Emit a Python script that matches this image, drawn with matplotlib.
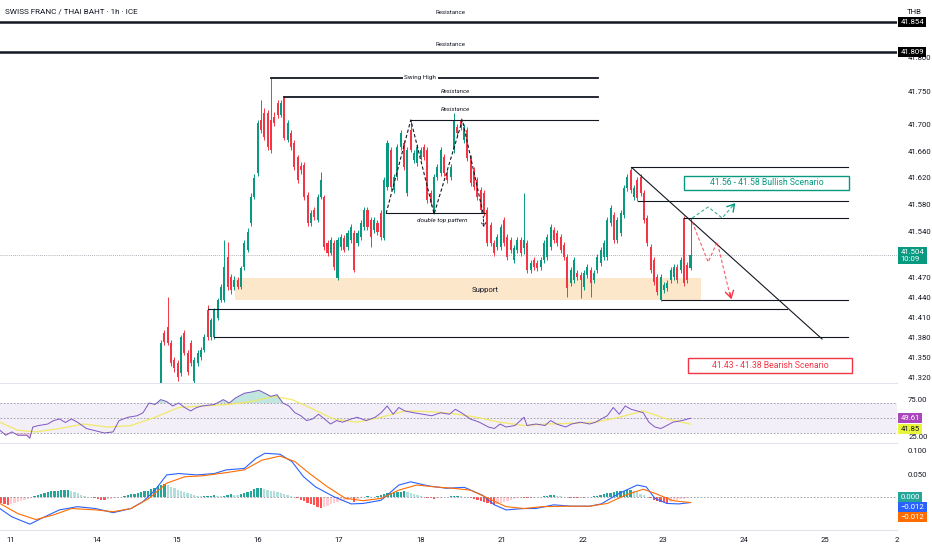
import numpy as np
import matplotlib.pyplot as plt
from matplotlib.patches import Rectangle

plt.rcParams['font.family'] = ['Roboto', 'DejaVu Sans']

# ---- hourly CHF/THB candles (bar index 0 = first visible candle) ----
opens = [41.310, 41.388, 41.397, 41.373, 41.347, 41.343, 41.328, 41.388, 41.358, 41.373,
         41.316, 41.343, 41.352, 41.362, 41.422, 41.382, 41.382, 41.410, 41.437, 41.437,
         41.502, 41.472, 41.457, 41.467, 41.457, 41.487, 41.512, 41.553, 41.592, 41.628,
         41.707, 41.718, 41.718, 41.707, 41.712, 41.733, 41.715, 41.740, 41.677, 41.688,
         41.673, 41.652, 41.638, 41.640, 41.595, 41.553, 41.572, 41.557, 41.592, 41.592,
         41.523, 41.508, 41.523, 41.470, 41.517, 41.530, 41.517, 41.527, 41.538, 41.523,
         41.532, 41.547, 41.572, 41.557, 41.542, 41.553, 41.568, 41.530, 41.607, 41.662,
         41.602, 41.622, 41.667, 41.673, 41.598, 41.692, 41.647, 41.643, 41.652, 41.667,
         41.662, 41.598, 41.568, 41.622, 41.628, 41.652, 41.628, 41.622, 41.662, 41.697,
         41.707, 41.677, 41.692, 41.650, 41.632, 41.617, 41.602, 41.598, 41.572, 41.550,
         41.523, 41.517, 41.517, 41.557, 41.532, 41.527, 41.497, 41.512, 41.527, 41.515,
         41.523, 41.482, 41.497, 41.493, 41.487, 41.497, 41.502, 41.517, 41.542, 41.538,
         41.532, 41.520, 41.502, 41.463, 41.467, 41.478, 41.475, 41.457, 41.475, 41.482,
         41.467, 41.482, 41.493, 41.502, 41.502, 41.553, 41.565, 41.527, 41.538, 41.565,
         41.605, 41.632, 41.592, 41.617, 41.622, 41.598, 41.560, 41.517, 41.497, 41.472,
         41.437, 41.452, 41.455, 41.467, 41.472, 41.487, 41.482, 41.560, 41.490, 41.485]
highs = [41.377, 41.392, 41.442, 41.377, 41.352, 41.347, 41.385, 41.392, 41.362, 41.377,
         41.352, 41.362, 41.367, 41.386, 41.430, 41.410, 41.425, 41.440, 41.461, 41.527,
         41.524, 41.476, 41.473, 41.472, 41.488, 41.527, 41.545, 41.598, 41.626, 41.707,
         41.737, 41.725, 41.722, 41.770, 41.719, 41.737, 41.737, 41.743, 41.707, 41.692,
         41.677, 41.655, 41.644, 41.644, 41.599, 41.572, 41.577, 41.596, 41.629, 41.595,
         41.527, 41.532, 41.527, 41.532, 41.536, 41.535, 41.542, 41.551, 41.542, 41.542,
         41.557, 41.577, 41.577, 41.562, 41.562, 41.557, 41.572, 41.622, 41.677, 41.667,
         41.626, 41.671, 41.692, 41.677, 41.667, 41.707, 41.662, 41.671, 41.667, 41.671,
         41.667, 41.602, 41.626, 41.641, 41.667, 41.656, 41.632, 41.641, 41.718, 41.701,
         41.710, 41.701, 41.697, 41.655, 41.637, 41.622, 41.607, 41.602, 41.577, 41.554,
         41.527, 41.536, 41.551, 41.562, 41.536, 41.532, 41.520, 41.532, 41.532, 41.598,
         41.527, 41.497, 41.502, 41.497, 41.502, 41.527, 41.536, 41.551, 41.547, 41.542,
         41.536, 41.524, 41.506, 41.487, 41.502, 41.482, 41.479, 41.482, 41.491, 41.487,
         41.482, 41.506, 41.517, 41.527, 41.562, 41.580, 41.569, 41.562, 41.572, 41.610,
         41.626, 41.637, 41.610, 41.622, 41.626, 41.602, 41.565, 41.521, 41.502, 41.476,
         41.476, 41.464, 41.467, 41.487, 41.491, 41.491, 41.502, 41.563, 41.494, 41.560]
lows = [41.299, 41.370, 41.370, 41.338, 41.329, 41.316, 41.323, 41.355, 41.325, 41.338,
        41.310, 41.338, 41.347, 41.359, 41.377, 41.377, 41.379, 41.407, 41.434, 41.434,
        41.452, 41.446, 41.452, 41.454, 41.454, 41.482, 41.509, 41.548, 41.589, 41.623,
        41.688, 41.677, 41.662, 41.658, 41.698, 41.710, 41.712, 41.677, 41.674, 41.662,
        41.632, 41.613, 41.626, 41.587, 41.548, 41.548, 41.557, 41.554, 41.589, 41.512,
        41.503, 41.505, 41.482, 41.467, 41.512, 41.509, 41.512, 41.523, 41.479, 41.518,
        41.527, 41.542, 41.542, 41.517, 41.538, 41.535, 41.527, 41.527, 41.602, 41.602,
        41.598, 41.617, 41.662, 41.632, 41.593, 41.659, 41.643, 41.638, 41.647, 41.647,
        41.583, 41.578, 41.566, 41.617, 41.623, 41.623, 41.613, 41.617, 41.658, 41.683,
        41.692, 41.673, 41.646, 41.608, 41.602, 41.587, 41.568, 41.563, 41.518, 41.518,
        41.503, 41.512, 41.512, 41.518, 41.497, 41.508, 41.493, 41.508, 41.503, 41.506,
        41.478, 41.478, 41.482, 41.481, 41.482, 41.493, 41.497, 41.512, 41.523, 41.518,
        41.508, 41.497, 41.442, 41.458, 41.463, 41.467, 41.440, 41.452, 41.470, 41.442,
        41.463, 41.478, 41.488, 41.497, 41.497, 41.548, 41.523, 41.523, 41.533, 41.560,
        41.601, 41.598, 41.587, 41.586, 41.593, 41.553, 41.518, 41.478, 41.460, 41.445,
        41.436, 41.448, 41.451, 41.463, 41.467, 41.463, 41.478, 41.458, 41.463, 41.482]
closes = [41.373, 41.374, 41.373, 41.343, 41.335, 41.322, 41.382, 41.358, 41.329, 41.343,
          41.347, 41.358, 41.362, 41.382, 41.382, 41.407, 41.422, 41.437, 41.457, 41.487,
          41.457, 41.452, 41.467, 41.457, 41.485, 41.523, 41.539, 41.592, 41.620, 41.703,
          41.692, 41.682, 41.667, 41.662, 41.703, 41.715, 41.733, 41.680, 41.703, 41.667,
          41.637, 41.617, 41.632, 41.592, 41.553, 41.568, 41.562, 41.592, 41.617, 41.517,
          41.508, 41.527, 41.487, 41.527, 41.532, 41.512, 41.538, 41.547, 41.482, 41.538,
          41.553, 41.572, 41.547, 41.532, 41.557, 41.539, 41.532, 41.617, 41.673, 41.607,
          41.622, 41.667, 41.688, 41.637, 41.662, 41.662, 41.658, 41.667, 41.662, 41.652,
          41.587, 41.583, 41.622, 41.637, 41.662, 41.628, 41.617, 41.637, 41.707, 41.688,
          41.697, 41.697, 41.650, 41.613, 41.607, 41.592, 41.572, 41.568, 41.523, 41.523,
          41.508, 41.532, 41.547, 41.523, 41.502, 41.512, 41.515, 41.527, 41.508, 41.527,
          41.482, 41.493, 41.487, 41.485, 41.497, 41.523, 41.532, 41.547, 41.527, 41.523,
          41.512, 41.502, 41.455, 41.482, 41.497, 41.472, 41.467, 41.478, 41.487, 41.463,
          41.478, 41.502, 41.512, 41.523, 41.557, 41.575, 41.527, 41.557, 41.568, 41.605,
          41.622, 41.602, 41.605, 41.590, 41.598, 41.557, 41.523, 41.482, 41.464, 41.449,
          41.472, 41.460, 41.463, 41.482, 41.487, 41.467, 41.497, 41.463, 41.467, 41.504]

# ---- RSI (14) and its moving average, read at bar positions ----
rsi_x = [-48.4, -46.6, -44.8, -43.0, -40.3, -39.4, -38.5, -36.7, -34.0, -32.3,
         -30.5, -28.7, -26.9, -25.1, -22.4, -19.7, -17.0, -14.4, -12.6, -9.9,
         -7.2, -5.4, -3.6, -1.8, -0.1, 1.7, 3.5, 5.3, 7.1, 8.9,
         10.7, 12.4, 16.0, 18.7, 20.5, 22.3, 25.0, 27.6, 29.4, 31.2,
         33.0, 34.8, 36.6, 38.4, 40.2, 42.0, 43.7, 45.5, 47.3, 49.1,
         50.9, 52.7, 54.5, 57.1, 58.9, 61.6, 64.3, 66.1, 67.9, 69.7,
         71.4, 73.2, 75.9, 78.6, 81.3, 84.0, 86.6, 88.4, 90.2, 92.9,
         95.6, 98.3, 100.1, 101.8, 103.6, 106.3, 109.0, 109.9, 112.6, 115.3,
         117.0, 118.8, 121.5, 123.3, 126.0, 128.7, 130.5, 132.2, 134.0, 135.8,
         137.6, 139.4, 141.2, 143.0, 144.8, 146.5, 148.3, 150.1, 151.9, 153.7,
         156.4, 159.0]
rsi_v = [33.7, 27, 31.5, 27, 27, 23, 38, 40, 42, 46.5,
         48.7, 44, 48.7, 44.4, 36, 33, 30, 31.5, 46.5, 51,
         53, 57, 70, 68, 74.5, 72, 66, 70, 64, 59.4,
         64, 66, 68, 74.5, 70, 76.6, 83, 85, 87, 83,
         78.8, 81, 70, 66, 57, 53, 46.6, 48.7, 55, 48.7,
         42, 46.6, 44.4, 48.7, 51, 46.6, 51, 57, 66, 55,
         64, 59.4, 57, 55, 53, 57, 55, 61.6, 57, 48.7,
         44.4, 38, 36, 42, 38, 40, 51, 40, 42, 40,
         46.6, 42, 38, 42, 44.4, 42, 44.4, 48.7, 53, 64,
         55, 66, 61.6, 59.4, 57, 44.4, 38, 36, 40, 44.4,
         46.6, 49.61]
rsi_ma_x = [-48.4, -43.0, -37.6, -30.5, -23.3, -16.2, -9.0, -1.8, 5.3, 12.4, 19.6,
            26.7, 33.9, 39.3, 44.6, 51.8, 58.9, 66.1, 73.2, 80.4, 87.5, 94.7,
            101.8, 109.0, 116.1, 123.3, 130.5, 137.6, 144.8, 151.9, 159.0]
rsi_ma_v = [44.4, 33.7, 31.5, 36, 42, 38, 40, 51, 64, 66, 68,
            71.5, 78.8, 74.5, 64, 48.7, 44.4, 51, 59.4, 58.6, 56, 51,
            44.4, 40, 42, 43, 44.4, 51, 59.4, 48.7, 41.85]

# ---- MACD (12, 26, 9) ----
macd_x = [-48.4, -44.8, -39.4, -35.8, -30.5, -25.1, -19.7, -14.4, -9.0, -5.4,
          -1.8, 1.7, 5.3, 10.7, 16.0, 19.6, 25.0, 28.5, 31.2, 35.7,
          39.3, 42.8, 46.4, 51.8, 57.1, 60.7, 66.1, 71.4, 75.0, 80.4,
          85.7, 91.1, 96.5, 100.1, 103.6, 109.0, 112.6, 117.9, 123.3, 128.7,
          132.2, 137.6, 143.0, 145.7, 148.3, 151.9, 155.5, 159.0]
macd_v = [-0.025, -0.043, -0.059, -0.046, -0.028, -0.021, -0.025, -0.034, -0.025, -0.010,
          0.015, 0.048, 0.051, 0.048, 0.051, 0.059, 0.062, 0.084, 0.095, 0.093,
          0.077, 0.044, 0.022, 0.001, -0.015, -0.014, -0.007, 0.026, 0.033, 0.024,
          0.019, 0.021, 0.004, -0.017, -0.028, -0.025, -0.025, -0.017, -0.020, -0.020,
          -0.015, 0.008, 0.026, 0.022, -0.003, -0.014, -0.015, -0.012]
signal_x = [-48.4, -43.0, -37.6, -32.3, -26.9, -19.7, -14.4, -9.0, -3.6, 1.7,
            7.1, 12.4, 19.6, 25.0, 30.3, 35.7, 40.2, 44.6, 50.0, 55.4,
            60.7, 66.1, 71.4, 76.8, 82.2, 87.5, 92.9, 98.3, 103.6, 109.0,
            114.4, 121.5, 128.7, 134.0, 139.4, 144.8, 148.3, 153.7, 159.0]
signal_v = [-0.014, -0.036, -0.049, -0.039, -0.025, -0.028, -0.032, -0.025, -0.003, 0.030,
            0.044, 0.046, 0.053, 0.059, 0.080, 0.089, 0.077, 0.051, 0.022, -0.003,
            -0.008, -0.003, 0.015, 0.026, 0.022, 0.019, 0.015, -0.003, -0.021, -0.025,
            -0.021, -0.020, -0.020, -0.014, 0.004, 0.017, 0.008, -0.008, -0.012]
hist_start = -48
hist_v = [-0.012, -0.015, -0.018, -0.016,
          -0.013, -0.010, -0.008, -0.006, -0.004, -0.002,
          0.003, 0.005, 0.007, 0.009, 0.011,
          0.012, 0.013, 0.014, 0.015, 0.015, 0.016,
          0.013, 0.010, 0.008, 0.005, 0.003, 0.001,
          -0.001, -0.003, -0.004, -0.006, -0.006,
          -0.005, -0.004, -0.003, -0.002, -0.001,
          0.002, 0.004, 0.006, 0.007, 0.009, 0.010, 0.012,
          0.014, 0.017, 0.020, 0.024, 0.027, 0.029,
          0.026, 0.022, 0.019, 0.016, 0.013, 0.010, 0.008, 0.006, 0.004, 0.003,
          0.002, 0.002, 0.003, 0.003, 0.004, 0.003, 0.002, 0.003, 0.005,
          0.006, 0.005, 0.004, 0.006,
          0.008, 0.011, 0.014, 0.017, 0.019, 0.020,
          0.018, 0.016, 0.014, 0.012, 0.010, 0.008, 0.006, 0.004, 0.002, 0.001,
          -0.003, -0.006, -0.009, -0.012, -0.015, -0.018, -0.021, -0.024,
          -0.022, -0.019, -0.016, -0.013, -0.011, -0.009, -0.008, -0.006, -0.005,
          -0.010,
          -0.004, -0.002, 0.001, 0.002, 0.001, -0.001, 0.002,
          0.004, 0.006, 0.008, 0.009, 0.010, 0.011, 0.011, 0.012,
          0.010, 0.008, 0.006, 0.004, 0.002, 0.001,
          -0.002, -0.003, -0.004, -0.003, -0.002, -0.001, 0.001,
          0.002, 0.003, 0.003, 0.002, 0.001, -0.001,
          -0.003, -0.005, -0.007, -0.009, -0.011, -0.013, -0.015, -0.018,
          -0.015, -0.012, -0.010, -0.008, -0.006, -0.004, -0.003, -0.002,
          -0.002, -0.003, -0.003, -0.002, -0.001, 0.001, 0.002,
          0.003, 0.004, 0.004, 0.003, 0.002, 0.001, -0.001,
          -0.002, -0.003, -0.003, -0.002, -0.002, -0.001, 0.001, 0.002,
          0.003, 0.005, 0.006, 0.008, 0.009, 0.010, 0.012,
          0.013, 0.014, 0.015, 0.016,
          0.013, 0.010, 0.007, 0.004, 0.001,
          -0.003, -0.006, -0.008, -0.010, -0.011, -0.012,
          -0.010, -0.008, -0.006, -0.005, -0.004, -0.002, -0.001]

day_pos = [-45.3, -19.2, 4.8, 29.1, 53.5, 78.1, 102.4, 126.7, 150.8, 175.1, 199.4, 220.9]
day_labels = ['11', '14', '15', '16', '17', '18', '21', '22', '23', '24', '25', '2']
price_ticks = [41.32, 41.35, 41.38, 41.41, 41.44, 41.47, 41.54, 41.58,
               41.62, 41.66, 41.70, 41.75, 41.80]

UP = '#089981'
DOWN = '#f23645'
INK = '#131722'
GRID = '#e0e3eb'
FS = 5.6

W, H = 932, 550
fig = plt.figure(figsize=(W / 100, H / 100), dpi=100)
fig.patch.set_facecolor('white')


def px_axes(x0, y0, x1, y1):
    return fig.add_axes([x0 / W, 1 - y1 / H, (x1 - x0) / W, (y1 - y0) / H])


def style(a):
    for s in ['left', 'right', 'top']:
        a.spines[s].set_visible(False)
    a.spines['bottom'].set_color(GRID)
    a.spines['bottom'].set_linewidth(0.8)
    a.yaxis.tick_right()
    a.tick_params(axis='y', length=0, pad=8, labelsize=FS, labelcolor=INK)
    a.tick_params(axis='x', length=0, labelbottom=False)
    a.set_xlim(-48.35, 221.0)


def tag(a, y, text, fc, tc='white'):
    a.text(1.004, y, text, transform=a.get_yaxis_transform(), ha='left', va='center',
           fontsize=FS, color=tc, clip_on=False, zorder=20, linespacing=1.1,
           bbox=dict(boxstyle='square,pad=0.28', fc=fc, ec='none'))


# ================= price pane =================
ax = px_axes(0, 0, 897, 383)
style(ax)
ax.set_ylim(41.3125, 41.887)
ax.set_yticks(price_ticks, [f'{t:.3f}' for t in price_ticks])

o = np.array(opens)
c = np.array(closes)
bars = np.arange(len(c))
cols = np.where(c >= o, UP, DOWN)
ax.vlines(bars, lows, highs, colors=cols, lw=0.7, zorder=3)
ax.bar(bars, np.maximum(np.abs(c - o), 0.0008), bottom=np.minimum(o, c),
       width=0.62, color=cols, lw=0, zorder=4)

# support zone
ax.add_patch(Rectangle((22.2, 41.437), 140.0, 0.033, fc='#fde3c2', ec='none', alpha=0.85, zorder=1))
ax.text(97.3, 41.4525, 'Support', fontsize=FS, color=INK, ha='center', va='center', zorder=5)

# full-width resistances
for lvl, ty in [(41.854, 41.8675), (41.809, 41.8195)]:
    ax.axhline(lvl, color=INK, lw=1.8, zorder=5)
    ax.text(86.8, ty, 'Resistance', fontsize=4.4, color=INK, ha='center', va='center')
tag(ax, 41.854, '41.854', '#000000')
tag(ax, 41.809, '41.809', '#000000')

# swing high and resistances
ax.plot([33.0, 131.2], [41.770, 41.770], color=INK, lw=1.3, zorder=5)
ax.text(77.8, 41.770, 'Swing High', fontsize=4.6, color=INK, ha='center', va='center', zorder=6,
        bbox=dict(boxstyle='square,pad=0.25', fc='white', ec='none'))
ax.plot([37.0, 131.2], [41.742, 41.742], color=INK, lw=1.3, zorder=5)
ax.text(88.3, 41.7495, 'Resistance', fontsize=4.4, style='italic', color=INK, ha='center', va='center')
ax.plot([75.0, 131.2], [41.707, 41.707], color=INK, lw=0.8, zorder=5)
ax.text(88.3, 41.722, 'Resistance', fontsize=4.4, style='italic', color=INK, ha='center', va='center')

# double top
ax.plot([67.6, 97.3], [41.567, 41.567], color=INK, lw=0.8, zorder=5)
ax.text(84.4, 41.5555, 'double top pattern', fontsize=4.6, style='italic', color=INK,
        ha='center', va='center')
ax.plot([67.6, 75.0, 82.0, 90.5, 96.7], [41.567, 41.707, 41.566, 41.707, 41.567],
        color=INK, lw=0.8, ls=(0, (3, 2)), zorder=5)
ax.annotate('', xy=(97.0, 41.542), xytext=(96.7, 41.567),
            arrowprops=dict(arrowstyle='->,head_length=0.25,head_width=0.15', color=INK,
                            lw=0.7, ls=(0, (2, 1.5))), zorder=5)

# lower levels and right-side structure
ax.plot([14.1, 188.0], [41.423, 41.423], color=INK, lw=0.8, zorder=5)
ax.plot([15.9, 206.3], [41.381, 41.381], color=INK, lw=0.8, zorder=5)
ax.plot([150.5, 206.3], [41.437, 41.437], color=INK, lw=0.8, zorder=5)
ax.plot([157.0, 206.3], [41.560, 41.560], color=INK, lw=0.8, zorder=5)
ax.plot([143.2, 206.3], [41.586, 41.586], color=INK, lw=0.8, zorder=5)
ax.plot([141.0, 206.3], [41.637, 41.637], color=INK, lw=0.8, zorder=5)
ax.plot([141.5, 198.5], [41.635, 41.3785], color=INK, lw=0.8, zorder=5)

# scenario boxes
ax.add_patch(Rectangle((157.1, 41.602), 49.5, 0.021, fill=False, ec=UP, lw=1.0, zorder=6))
ax.text(181.8, 41.6125, '41.56 - 41.58 Bullish Scenario', fontsize=6.2, color=UP,
        ha='center', va='center', zorder=6)
ax.add_patch(Rectangle((158.3, 41.3275), 49.2, 0.0225, fill=False, ec=DOWN, lw=1.0, zorder=6))
ax.text(182.9, 41.3385, '41.43 - 41.38 Bearish Scenario', fontsize=6.2, color=DOWN,
        ha='center', va='center', zorder=6)

# projected paths
ax.plot([159.5, 164.3, 168.5, 172.2], [41.560, 41.5765, 41.560, 41.5812],
        color=UP, lw=0.8, ls=(0, (3, 2)), alpha=0.8, zorder=6)
ax.annotate('', xy=(173.0, 41.5855), xytext=(171.2, 41.575),
            arrowprops=dict(arrowstyle='->,head_length=0.5,head_width=0.3', color=UP, lw=1.0), zorder=6)
ax.plot([159.5, 164.3, 167.0, 171.0], [41.554, 41.494, 41.524, 41.441],
        color=DOWN, lw=0.8, ls=(0, (3, 2)), alpha=0.8, zorder=6)
ax.annotate('', xy=(171.5, 41.434), xytext=(170.6, 41.452),
            arrowprops=dict(arrowstyle='->,head_length=0.5,head_width=0.3', color=DOWN, lw=1.0), zorder=6)

# last price
ax.axhline(closes[-1], color='#9598a1', lw=0.6, ls=(0, (1, 1.5)), zorder=2)
tag(ax, closes[-1], f'{closes[-1]:.3f}\n10:09', UP)

fig.text(5 / W, 1 - 11 / H, 'SWISS FRANC / THAI BAHT · 1h · ICE', fontsize=5.9, color=INK, va='center')
fig.text(907 / W, 1 - 12 / H, 'THB', fontsize=FS, color=INK, va='center')

# ================= RSI pane =================
ar = px_axes(0, 384, 897, 443)
style(ar)
ar.set_ylim(16.7, 95.3)
ar.set_yticks([25, 75], ['25.00', '75.00'])
ar.axhspan(30, 70, color='#7e57c2', alpha=0.09, lw=0)
for lvl in [70, 50, 30]:
    ar.axhline(lvl, color='#9598a1', lw=0.6, ls=(0, (2, 2)))
rx = np.array(rsi_x)
rv = np.array(rsi_v)
ar.fill_between(rx, rv, 70, where=rv > 70, interpolate=True, color=UP, alpha=0.25, lw=0)
ar.fill_between(rx, rv, 30, where=rv < 30, interpolate=True, color=DOWN, alpha=0.25, lw=0)
ar.plot(rsi_ma_x, rsi_ma_v, color='#f2e85c', lw=1.0, alpha=0.85)
ar.plot(rx, rv, color='#7e57c2', lw=0.7)
# value tags, the lower one nudged down so the two do not overlap
tag(ar, 50.0, f'{rsi_v[-1]:.2f}', '#ab47bc')
tag(ar, 35.3, f'{rsi_ma_v[-1]:.2f}', '#e8f53b', tc=INK)

# ================= MACD pane =================
am = px_axes(0, 444, 897, 530)
style(am)
am.set_ylim(-0.0717, 0.1152)
am.set_yticks([0.05, 0.1], ['0.050', '0.100'])
am.axhline(0, color='#9598a1', lw=0.6, ls=(0, (2, 2)))
hv = np.array(hist_v)
hx = np.arange(hist_start, hist_start + len(hv))
prev = np.concatenate([[hv[0]], hv[:-1]])
hcols = np.where(hv >= 0, np.where(hv >= prev, '#26a69a', '#b2dfdb'),
                 np.where(hv <= prev, '#ff5252', '#ffcdd2'))
am.bar(hx, hv, width=0.7, color=hcols, lw=0)
am.plot(macd_x, macd_v, color='#2962ff', lw=0.8)
am.plot(signal_x, signal_v, color='#ff6d00', lw=0.8)
tag(am, 0.0, '0.000', '#26a69a')
tag(am, -0.0217, f'\u2212{abs(macd_v[-1]):.3f}', '#2962ff')
tag(am, -0.0435, f'\u2212{abs(signal_v[-1]):.3f}', '#ff6d00')
am.set_xticks(day_pos, day_labels)
am.tick_params(axis='x', labelbottom=True, pad=5, labelsize=FS, labelcolor=INK)

fig.savefig('out.png', dpi=100, facecolor='white')
